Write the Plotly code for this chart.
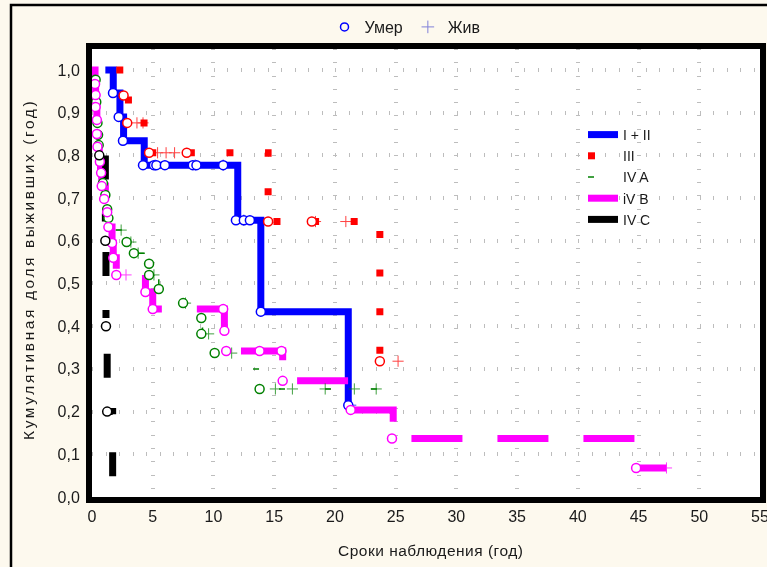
import plotly.graph_objects as go

# ---------------- data ----------------
# Kaplan–Meier step curves: first time on curve, event times, survival after each event, last follow-up
start_I_II, end_I_II = 1.1, 21.4
t_I_II = [1.75, 2.3, 2.6, 4.3, 12.0, 13.9, 21.1]
s_I_II = [0.946, 0.89, 0.834, 0.777, 0.648, 0.434, 0.215]
dead_t_I_II = [1.73, 2.2, 2.55, 4.2, 5.1, 5.3, 6.0, 8.3, 8.6, 10.8, 11.85, 12.5, 13.0, 13.9, 21.1]
dead_s_I_II = [0.946, 0.89, 0.834, 0.777, 0.777, 0.777, 0.777, 0.777, 0.777, 0.777,
               0.648, 0.648, 0.648, 0.434, 0.215]
alive_t_I_II = [5.2, 8.5, 10.8, 12.5, 21.3]
alive_s_I_II = [0.777, 0.777, 0.777, 0.648, 0.215]

start_III, end_III = 2.0, 25.5
t_III = [2.6, 3.0, 4.7, 14.5, 23.7]
s_III = [0.94, 0.876, 0.806, 0.645, 0.32]
dead_t_III = [2.6, 2.9, 4.7, 7.8, 14.5, 18.1, 23.7]
dead_s_III = [0.94, 0.876, 0.806, 0.806, 0.645, 0.645, 0.318]
alive_t_III = [3.7, 4.2, 5.4, 6.1, 6.8, 18.4, 20.9, 25.2]
alive_s_III = [0.876, 0.876, 0.806, 0.806, 0.806, 0.645, 0.645, 0.318]

start_IVA, end_IVA = 0.0, 23.5
t_IVA = [0.3, 0.33, 0.36, 0.4, 0.45, 0.5, 0.55, 0.6, 0.7, 0.85, 1.0, 1.25, 1.4, 1.6,
         2.9, 3.45, 4.7, 4.8, 5.5, 7.5, 9.0, 9.1, 10.2, 12.3, 13.8]
s_IVA = [0.977, 0.95, 0.925, 0.9, 0.876, 0.848, 0.824, 0.795, 0.765, 0.735, 0.707, 0.674, 0.653, 0.625,
         0.597, 0.571, 0.546, 0.52, 0.487, 0.454, 0.419, 0.382, 0.337, 0.30, 0.253]
dead_t_IVA = [0.3, 0.35, 0.45, 0.5, 0.55, 0.9, 1.1, 1.25, 1.35, 2.85, 3.45, 4.7, 4.7,
              5.5, 7.5, 9.0, 9.0, 10.1, 13.8]
dead_s_IVA = [0.977, 0.925, 0.876, 0.848, 0.824, 0.735, 0.707, 0.674, 0.653, 0.597, 0.571, 0.546, 0.52,
              0.487, 0.454, 0.419, 0.382, 0.337, 0.253]
alive_t_IVA = [2.4, 3.2, 3.8, 5.1, 7.7, 9.6, 11.5, 15.1, 16.5, 19.2, 21.6, 23.4]
alive_s_IVA = [0.625, 0.597, 0.571, 0.52, 0.454, 0.382, 0.337, 0.253, 0.253, 0.253, 0.253, 0.253]

start_IVB, end_IVB = 0.0, 47.3
t_IVB = [0.25, 0.3, 0.35, 0.4, 0.45, 0.5, 0.6, 0.7, 0.8, 1.1, 1.3, 1.4, 1.65, 1.75, 2.0,
         4.4, 5.0, 10.9, 11.1, 15.7, 21.3, 24.8, 44.8]
s_IVB = [0.967, 0.941, 0.913, 0.883, 0.85, 0.82, 0.785, 0.759, 0.728, 0.698, 0.667, 0.632, 0.595, 0.56, 0.52,
         0.48, 0.44, 0.389, 0.342, 0.272, 0.204, 0.137, 0.068]
dead_t_IVB = [0.25, 0.3, 0.3, 0.4, 0.4, 0.45, 0.65, 0.75, 0.8, 1.0, 1.25, 1.35, 1.65, 1.75, 2.0,
              4.4, 5.0, 10.8, 10.9, 11.05, 13.8, 15.6, 15.7, 21.3, 24.7, 44.8]
dead_s_IVB = [0.967, 0.941, 0.913, 0.883, 0.85, 0.82, 0.785, 0.759, 0.728, 0.698, 0.667, 0.632, 0.595, 0.56, 0.52,
              0.48, 0.44, 0.44, 0.389, 0.342, 0.342, 0.342, 0.272, 0.204, 0.137, 0.068]
alive_t_IVB = [2.8, 47.3]
alive_s_IVB = [0.52, 0.068]

start_IVC, end_IVC = 0.0, 1.7
t_IVC = [0.65, 1.1, 1.15, 1.25, 1.7]
s_IVC = [0.8, 0.6, 0.4, 0.2, 0.0]
dead_t_IVC = [0.6, 1.1, 1.15, 1.25]
dead_s_IVC = [0.8, 0.6, 0.4, 0.2]

x_ticks = [0, 5, 10, 15, 20, 25, 30, 35, 40, 45, 50, 55]
y_ticks = [0.0, 0.1, 0.2, 0.3, 0.4, 0.5, 0.6, 0.7, 0.8, 0.9, 1.0]

# ---------------- styles ----------------
FONT = "Liberation Sans, Arial, sans-serif"
# long dash / dot pattern for the IV C curve, starting with a gap
DASH_IVC = "0px,99px,24px,34px,8px,31px,24px,34px,8px,37px,24px,34px,8px,38px,24px,200px"
groups = [
    # name, start, times, surv, end, dead_t, dead_s, alive_t, alive_s, colour, width, dash, own legend key
    ("IV A", start_IVA, t_IVA, s_IVA, end_IVA, dead_t_IVA, dead_s_IVA, alive_t_IVA, alive_s_IVA,
     "#008000", 1.5, "6px,40px", True),
    ("I + II", start_I_II, t_I_II, s_I_II, end_I_II, dead_t_I_II, dead_s_I_II, alive_t_I_II, alive_s_I_II,
     "#0000FF", 7, "solid", True),
    ("III", start_III, t_III, s_III, end_III, dead_t_III, dead_s_III, alive_t_III, alive_s_III,
     "#FF0000", 7, "7px,31.6px", True),
    ("iV B", start_IVB, t_IVB, s_IVB, end_IVB, dead_t_IVB, dead_s_IVB, alive_t_IVB, alive_s_IVB,
     "#FF00FF", 7, "51px,35px", True),
    ("IV C", start_IVC, t_IVC, s_IVC, end_IVC, dead_t_IVC, dead_s_IVC, [], [],
     "#000000", 7, DASH_IVC, False),
]
legend_order = {"I + II": 1, "III": 2, "IV A": 3, "iV B": 4, "IV C": 5}

fig = go.Figure()

# step lines
for name, st, tt, ss, en, dt, ds, at, as_, col, w, dash, key in groups:
    fig.add_trace(go.Scatter(
        x=[st] + tt + [en], y=[1.0] + ss + [ss[-1]],
        mode="lines", line=dict(shape="hv", color=col, width=w, dash=dash),
        name=name, legend="legend2", legendrank=legend_order[name], showlegend=key,
        hoverinfo="skip"))
    if not key:
        # the dash pattern opens with a gap, so the legend key gets a solid stroke
        fig.add_trace(go.Scatter(
            x=[None], y=[None], mode="lines", line=dict(color=col, width=w),
            name=name, legend="legend2", legendrank=legend_order[name]))

# censored (alive) markers
for name, st, tt, ss, en, dt, ds, at, as_, col, w, dash, key in groups:
    if at:
        fig.add_trace(go.Scatter(
            x=at, y=as_, mode="markers", showlegend=False, opacity=0.75,
            marker=dict(symbol="cross-thin-open", size=8, color=col, line=dict(color=col, width=1)),
            hoverinfo="skip"))

# complete (dead) markers
for name, st, tt, ss, en, dt, ds, at, as_, col, w, dash, key in groups:
    fig.add_trace(go.Scatter(
        x=dt, y=ds, mode="markers", showlegend=False,
        marker=dict(symbol="circle", size=9, color="white", line=dict(color=col, width=1.5)),
        hoverinfo="skip"))

# marker key
fig.add_trace(go.Scatter(x=[None], y=[None], mode="markers", name="Умер", legend="legend",
                         marker=dict(symbol="circle-open", size=8, color="#0000FF",
                                     line=dict(color="#0000FF", width=1.5))))
fig.add_trace(go.Scatter(x=[None], y=[None], mode="markers", name="Жив", legend="legend",
                         marker=dict(symbol="cross-thin-open", size=9, color="#8080D8",
                                     line=dict(color="#8080D8", width=1))))

L, R, T, B = 92, 7, 49, 70
W, H = 767, 567
pw, ph = W - L - R, H - T - B


def px_x(p):
    return (p - L) / pw


def px_y(p):
    return (H - B - p) / ph


def spaced(text, gap):
    return f'<span style="letter-spacing:{gap}px">{text}</span>'


fig.update_layout(
    width=W, height=H,
    margin=dict(l=L, r=R, t=T, b=B, autoexpand=False),
    paper_bgcolor="#FDF9EE", plot_bgcolor="white",
    separators=", ",
    font=dict(family=FONT, size=15, color="#1a1a1a"),
    xaxis=dict(range=[0, 55], tickvals=x_ticks, showgrid=True, gridcolor="#BDBDBD",
               gridwidth=4, griddash="1px,12.3px", zeroline=False, automargin=False,
               ticklabeloverflow="allow",
               showline=True, linewidth=6, linecolor="black", mirror=True,
               ticks="", tickfont=dict(size=16), fixedrange=True),
    yaxis=dict(range=[0, 1.049], tickvals=y_ticks, tickformat=".1f", showgrid=True,
               gridcolor="#BDBDBD", gridwidth=4, griddash="1px,12.5px", zeroline=False,
               automargin=False, ticklabelstandoff=3,
               showline=True, linewidth=6, linecolor="black", mirror=True,
               ticks="", tickfont=dict(size=16), fixedrange=True),
    legend=dict(orientation="h", x=px_x(405), y=px_y(27), xanchor="center", yanchor="middle",
                bgcolor="rgba(0,0,0,0)", font=dict(size=16), itemwidth=30),
    legend2=dict(x=px_x(583), y=px_y(119), xanchor="left", yanchor="top",
                 bgcolor="rgba(0,0,0,0)", font=dict(size=14), itemwidth=30,
                 traceorder="normal"),
    annotations=[
        dict(text=spaced("Кумулятивная доля выживших (год)", 2.6), xref="paper", yref="paper",
             x=px_x(28), y=px_y(270), textangle=-90, showarrow=False,
             xanchor="center", yanchor="middle", font=dict(size=15.5)),
        dict(text=spaced("Сроки наблюдения (год)", 0.5), xref="paper", yref="paper",
             x=px_x(430), y=px_y(550), showarrow=False,
             xanchor="center", yanchor="middle", font=dict(size=15.5)),
    ],
    shapes=[
        dict(type="rect", xref="paper", yref="paper",
             x0=px_x(11), x1=px_x(790), y0=px_y(600), y1=px_y(5),
             line=dict(color="black", width=2.5), layer="above"),
    ],
    showlegend=True,
)

fig.write_html("out.html")
